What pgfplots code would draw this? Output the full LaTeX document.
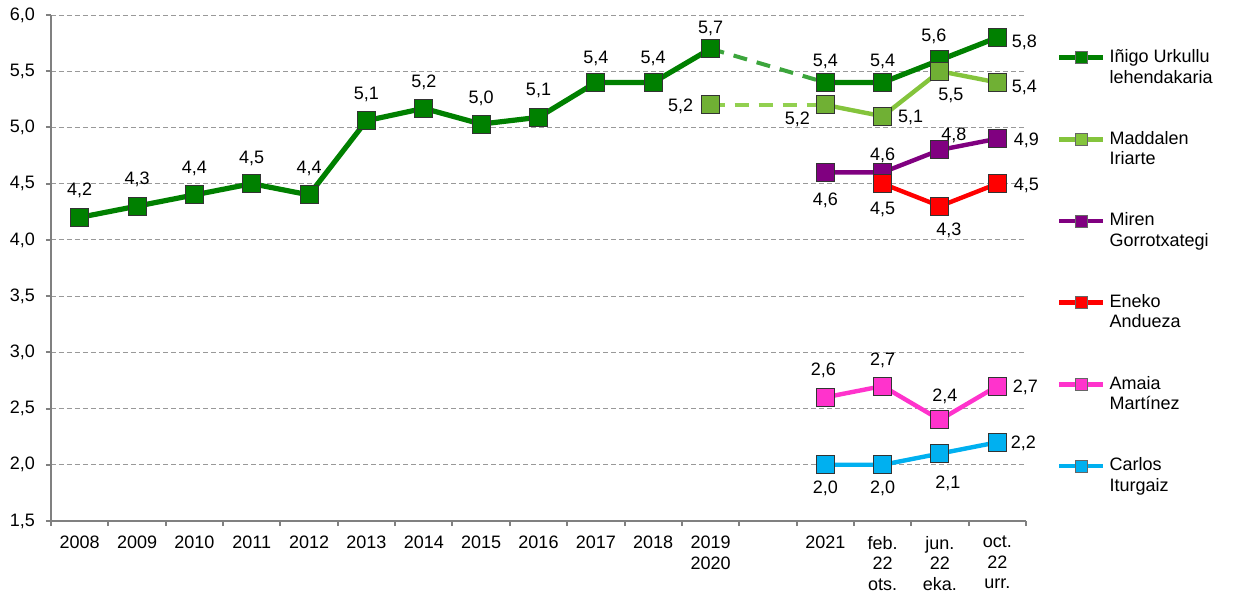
\documentclass[border=0pt]{standalone}
\usepackage{fontspec}
\setmainfont{Liberation Sans}
\usepackage{pgfplots}
\pgfplotsset{compat=1.18}
\usepackage{pgfplotstable}

\definecolor{cgreen}{RGB}{0,128,0}
\definecolor{cgreendash}{RGB}{60,165,60}
\definecolor{clight}{RGB}{132,196,60}
\definecolor{clightfill}{RGB}{112,176,52}
\definecolor{clightdash}{RGB}{146,208,80}
\definecolor{cpurple}{RGB}{128,0,128}
\definecolor{cred}{RGB}{255,0,0}
\definecolor{cpink}{RGB}{255,51,204}
\definecolor{cblue}{RGB}{0,176,240}
\definecolor{caxis}{RGB}{128,128,128}

% data label placed at offset (dx,dy) from the point, centred
\protected\def\lb#1#2#3{\raisebox{\dimexpr#2-3.2pt\relax}[0pt][0pt]{\makebox[0pt]{\hspace*{#1}\hspace*{#1}#3}}}

\pgfplotstableread{
x y lab
0 4.2 \lb{0pt}{14pt}{4,2}
1 4.3 \lb{0pt}{14pt}{4,3}
2 4.4 \lb{0pt}{14pt}{4,4}
3 4.5 \lb{0pt}{13.5pt}{4,5}
4 4.4 \lb{0pt}{14pt}{4,4}
5 5.06 \lb{0pt}{14pt}{5,1}
6 5.17 \lb{0pt}{13.5pt}{5,2}
7 5.03 \lb{0pt}{13.5pt}{5,0}
8 5.09 \lb{0pt}{14pt}{5,1}
9 5.4 \lb{0pt}{12.5pt}{5,4}
10 5.4 \lb{0pt}{12.5pt}{5,4}
11 5.7 \lb{0pt}{11pt}{5,7}
12 nan {}
13 5.4 \lb{0pt}{11pt}{5,4}
14 5.4 \lb{0pt}{11pt}{5,4}
15 5.6 \lb{-3pt}{12.5pt}{5,6}
16 5.8 \lb{13.5pt}{-2pt}{5,8}
}\tIurk

\pgfplotstableread{
x y lab
11 5.2 \lb{-15pt}{0pt}{5,2}
12 nan {}
13 5.2 \lb{-14pt}{-6.5pt}{5,2}
14 5.1 \lb{14pt}{0pt}{5,1}
15 5.5 \lb{5.5pt}{-11.5pt}{5,5}
16 5.4 \lb{13.5pt}{-2pt}{5,4}
}\tIriarte

\pgfplotstableread{
x y lab
13 4.6 \lb{0pt}{-13.5pt}{4,6}
14 4.6 \lb{0pt}{9pt}{4,6}
15 4.8 \lb{7pt}{8pt}{4,8}
16 4.9 \lb{14.5pt}{0pt}{4,9}
}\tGorro

\pgfplotstableread{
x y lab
14 4.5 \lb{0pt}{-12pt}{4,5}
15 4.3 \lb{4.5pt}{-11.5pt}{4,3}
16 4.5 \lb{14.5pt}{0pt}{4,5}
}\tAndueza

\pgfplotstableread{
x y lab
13 2.6 \lb{-1pt}{14pt}{2,6}
14 2.7 \lb{0pt}{13.5pt}{2,7}
15 2.4 \lb{2.5pt}{12.5pt}{2,4}
16 2.7 \lb{14pt}{0pt}{2,7}
}\tMartinez

\pgfplotstableread{
x y lab
13 2.0 \lb{0pt}{-11pt}{2,0}
14 2.0 \lb{0pt}{-11pt}{2,0}
15 2.1 \lb{4pt}{-14.5pt}{2,1}
16 2.2 \lb{13pt}{0pt}{2,2}
}\tIturgaiz

\begin{document}
\begin{tikzpicture}
\begin{axis}[
  scale only axis, width=487.5pt, height=253pt,
  xmin=-0.5, xmax=16.5, ymin=1.5, ymax=6,
  unbounded coords=jump,
  axis lines=left,
  axis line style={-, caxis, line width=1.1pt},
  xtick={-0.5,0.5,...,16.5},
  x tick label as interval,
  xticklabels={2008,2009,2010,2011,2012,2013,2014,2015,2016,2017,2018,{2019\\2020},{},2021,{feb.\\22\\ots.},{jun.\\22\\eka.},{oct.\\22\\urr.}},
  xticklabel style={align=center, font=\fontsize{9}{10.3}\selectfont, yshift=-1.5pt},
  ytick={1.5,2,...,6},
  yticklabel style={font=\fontsize{9}{10.3}\selectfont, xshift=-2pt,
    /pgf/number format/.cd, fixed, fixed zerofill, precision=1, use comma, assume math mode=true},
  tick align=outside,
  major tick length=2.5pt,
  tick style={caxis, line width=1pt},
  ymajorgrids,
  grid style={dash pattern=on 2.5pt off 1.5pt, black!40, line width=0.4pt},
  lbl/.style={
    draw=none, no markers, forget plot,
    point meta=explicit symbolic,
    nodes near coords,
    every node near coord/.append style={anchor=center,
      text=black, font=\fontsize{9}{10.3}\selectfont, inner sep=0pt},
  },
  ser/.style={mark=square*, mark size=4.5pt,
    mark options={solid, draw=black!80, line width=0.5pt, fill=#1}},
  legend cell align=left,
  legend style={at={(1,1)}, anchor=north west, xshift=15pt, yshift=-15pt,
    draw=none, fill=none, inner sep=0pt, row sep=18.5pt,
    font=\fontsize{9}{10.3}\selectfont, cells={align=left}},
  legend image code/.code={\draw[mark repeat=2, mark phase=2, #1, mark size=3pt,
      mark options={draw=black!60, line width=0.4pt}]
    plot coordinates {(0pt,5pt) (11pt,5pt) (22pt,5pt)};},
]
% dashed connectors
\addplot[cgreendash, line width=2pt, dash pattern=on 7pt off 5pt, no markers, forget plot]
  coordinates {(11,5.7) (13,5.4)};
\addplot[clightdash, line width=2pt, dash pattern=on 7pt off 5pt, no markers, forget plot]
  coordinates {(11,5.2) (13,5.2)};
% main series
\addplot[cgreen, line width=2.6pt, ser=cgreen] table[x=x, y=y] {\tIurk};
\addlegendentry{Iñigo Urkullu\\lehendakaria}
\addplot[clight, line width=2.2pt, ser=clightfill] table[x=x, y=y] {\tIriarte};
\addlegendentry{Maddalen\\Iriarte}
\addplot[cpurple, line width=2.2pt, ser=cpurple] table[x=x, y=y] {\tGorro};
\addlegendentry{Miren\\Gorrotxategi}
\addplot[cred, line width=2.2pt, ser=cred] table[x=x, y=y] {\tAndueza};
\addlegendentry{Eneko\\Andueza}
\addplot[cpink, line width=2.2pt, ser=cpink] table[x=x, y=y] {\tMartinez};
\addlegendentry{Amaia\\Martínez}
\addplot[cblue, line width=2.2pt, ser=cblue] table[x=x, y=y] {\tIturgaiz};
\addlegendentry{Carlos\\Iturgaiz}
% data labels
\addplot[lbl] table[x=x, y=y, meta=lab] {\tIurk};
\addplot[lbl] table[x=x, y=y, meta=lab] {\tIriarte};
\addplot[lbl] table[x=x, y=y, meta=lab] {\tGorro};
\addplot[lbl] table[x=x, y=y, meta=lab] {\tAndueza};
\addplot[lbl] table[x=x, y=y, meta=lab] {\tMartinez};
\addplot[lbl] table[x=x, y=y, meta=lab] {\tIturgaiz};
\end{axis}
\path (-25.5pt,-37.5pt) rectangle (595.5pt,260.5pt);
\end{tikzpicture}
\end{document}
